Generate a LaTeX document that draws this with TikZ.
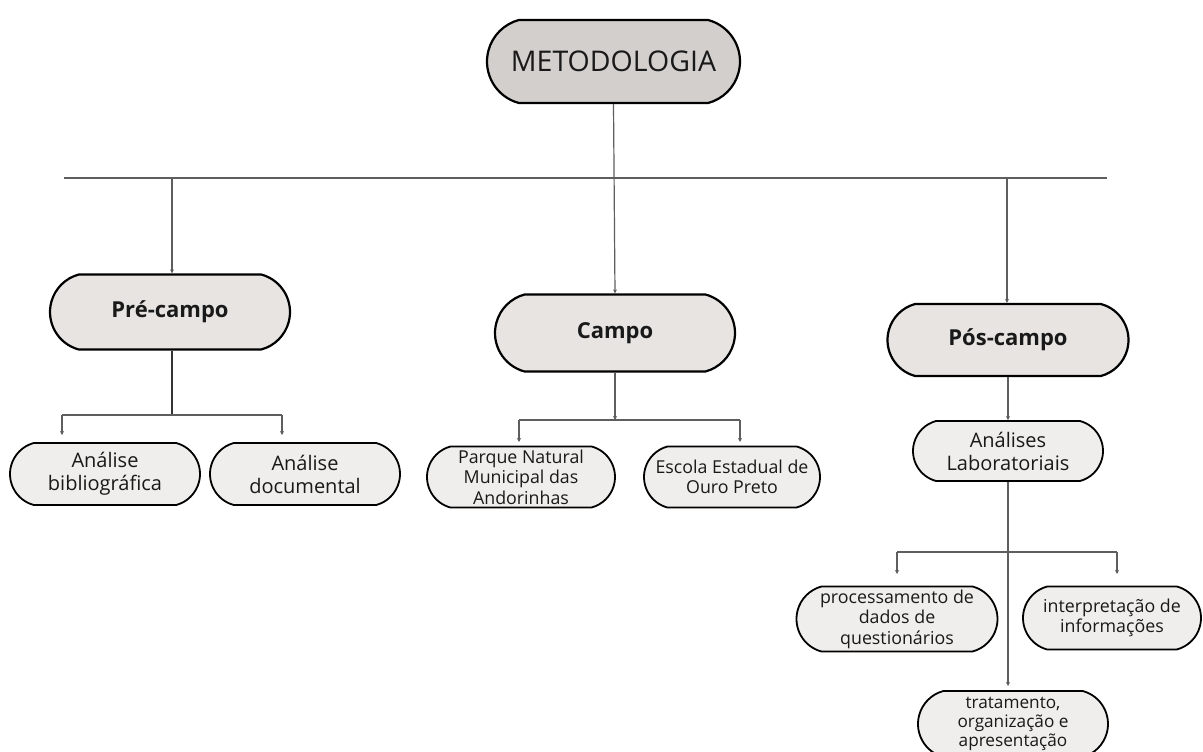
\documentclass[tikz,border=0pt]{standalone}
\usepackage{fontspec}
\setmainfont{Open Sans}
\usetikzlibrary{arrows.meta,shapes.misc}
\definecolor{conn}{HTML}{5E5E5E}
\definecolor{bigfill}{HTML}{D2CFCD}
\definecolor{midfill}{HTML}{E7E4E2}
\definecolor{smallfill}{HTML}{F0EEEC}
\tikzset{
  pill/.style={draw=black, line width=2.2pt, rounded rectangle, rounded rectangle arc length=150, inner sep=0pt, align=center, text=black!90},
  bigpill/.style={pill, fill=bigfill, font=\fontsize{28.5}{32}\selectfont},
  midpill/.style={pill, fill=midfill, font=\fontsize{22}{25}\selectfont\bfseries},
  smallpill/.style={pill, fill=smallfill, line width=1.8pt, font=\fontsize{20}{23}\selectfont},
  lowfont/.style={font=\fontsize{17.8}{20.5}\selectfont},
  conline/.style={draw=conn, line width=1.2pt},
  conarrow/.style={conline, -{Stealth[length=4pt,width=4pt]}},
}
\begin{document}
\begin{tikzpicture}[x=1pt,y=-1pt]
\useasboundingbox (0,0) rectangle (1203,752);
\fill[white] (0,0) rectangle (1203,752);
% main nodes
\node[bigpill, minimum width=253pt, minimum height=83pt] (meto) at (613.5,61.5) {METODOLOGIA};
\node[midpill, minimum width=240pt, minimum height=75pt] (pre) at (170,312) {Pré-campo};
\node[midpill, minimum width=240pt, minimum height=77pt] (campo) at (615,333) {Campo};
\node[midpill, minimum width=241pt, minimum height=72pt] (pos) at (1008,340) {Pós-campo};
% children
\node[smallpill, minimum width=190pt, minimum height=62pt] (bib) at (105,474) {Análise\\bibliográfica};
\node[smallpill, minimum width=190pt, minimum height=62pt] (doc) at (305,474) {Análise\\documental};
\node[smallpill, lowfont, minimum width=188pt, minimum height=61pt] (parque) at (521,477) {Parque Natural\\Municipal das\\Andorinhas};
\node[smallpill, lowfont, minimum width=176pt, minimum height=61pt] (escola) at (732,477) {Escola Estadual de\\Ouro Preto};
\node[smallpill, minimum width=190pt, minimum height=60pt] (lab) at (1008,451) {Análises\\Laboratoriais};
\node[smallpill, lowfont, minimum width=201pt, minimum height=65pt] (proc) at (897,619) {processamento de\\dados de\\questionários};
\node[smallpill, lowfont, minimum width=178pt, minimum height=63pt] (interp) at (1112,618) {interpretação de\\informações};
\node[smallpill, minimum width=190pt, minimum height=66pt, font=\fontsize{17.2}{18.8}\selectfont] (trat) at (1013,724) {tratamento,\\organização e\\apresentação};
% coordinates
\coordinate (hl) at (64,178);
\coordinate (hr) at (1107,178);
\coordinate (jpre) at (172,178);
\coordinate (jpos) at (1007,178);
\coordinate (pj) at (172,415);
\coordinate (pl) at (62,415);
\coordinate (pr) at (282,415);
\coordinate (plt) at (62,435);
\coordinate (prt) at (282,435);
\coordinate (cj) at (615,420);
\coordinate (cl) at (519,420);
\coordinate (cr) at (740,420);
\coordinate (clt) at (519,442);
\coordinate (crt) at (740,442);
\coordinate (ll) at (897,552);
\coordinate (lr) at (1117,552);
\coordinate (llt) at (897,574);
\coordinate (lrt) at (1117,574);
\coordinate (ltt) at (1008,686);
% connectors
\draw[conline] (hl) -- (hr);
\draw[conarrow] (meto.south) -- (campo.north);
\draw[conarrow] (jpre) -- (pre.north -| jpre);
\draw[conarrow] (jpos) -- (pos.north -| jpos);
\draw[conline, draw=black!80] (pre.south -| pj) -- (pj);
\draw[conline] (pl) -- (pr);
\draw[conarrow] (pl) -- (plt);
\draw[conarrow] (pr) -- (prt);
\draw[conarrow] (campo.south) -- (cj);
\draw[conline] (cl) -- (cr);
\draw[conarrow] (cl) -- (clt);
\draw[conarrow] (cr) -- (crt);
\draw[conarrow] (pos.south) -- (lab.north);
\draw[conline] (ll) -- (lr);
\draw[conarrow] (ll) -- (llt);
\draw[conarrow] (lr) -- (lrt);
\draw[conarrow] (lab.south) -- (ltt);
\end{tikzpicture}
\end{document}
